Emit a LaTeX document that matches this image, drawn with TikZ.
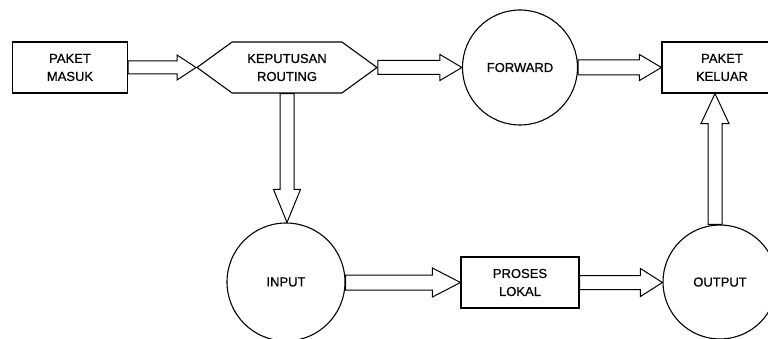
\documentclass[tikz,border=0pt]{standalone}
\usepackage{fontspec}
\setmainfont[FakeBold=0.6]{Liberation Sans}
\usetikzlibrary{calc,shapes.symbols}

\tikzset{
    kepala/.store in=\kepala, kepala=22pt,
    batang/.store in=\batang, batang=7pt,
    sayap/.store in=\sayap, sayap=13pt,
    kotak/.style={draw, line width=1.1pt, align=center, inner sep=0pt},
    bulat/.style={draw, circle, line width=1.1pt, minimum size=116pt, inner sep=0pt},
    blok/.style={draw, line width=1pt, fill=white,
        to path={let \p1=($(\tikztotarget)!\kepala!(\tikztostart)$) in
            ($(\tikztostart)!\batang!90:(\tikztotarget)$)
            -- ($(\p1)!\batang!90:(\tikztotarget)$)
            -- ($(\p1)!\sayap!90:(\tikztotarget)$)
            -- (\tikztotarget)
            -- ($(\p1)!\sayap!-90:(\tikztotarget)$)
            -- ($(\p1)!\batang!-90:(\tikztotarget)$)
            -- ($(\tikztostart)!\batang!-90:(\tikztotarget)$)
            -- cycle}}
}

\begin{document}
\begin{tikzpicture}[x=1pt, y=1pt, font=\fontsize{13}{18}\selectfont]
    \useasboundingbox (0,0) rectangle (768,338);
    \begin{scope} % Baris atas
        \node[kotak, minimum width=115pt, minimum height=51pt] (masuk)
            at (70,270.5) {PAKET\\MASUK};
        \node[kotak, signal, signal to=east and west, signal pointer angle=72,
            minimum width=180pt, minimum height=51pt] (rute)
            at (287,270.5) {KEPUTUSAN\\ROUTING};
        \node[bulat, minimum size=115pt] (fwd) at (520,270.5) {FORWARD};
        \node[kotak, minimum width=120pt, minimum height=51pt] (keluar)
            at (722,270.5) {PAKET\\KELUAR};
    \end{scope}
    \begin{scope} % Baris bawah
        \node[bulat, minimum size=118pt] (input) at (286,56) {INPUT};
        \node[kotak, minimum width=118pt, minimum height=51pt] (proses)
            at (520,55.5) {PROSES\\LOKAL};
        \node[bulat, minimum size=114pt] (output) at (720,56) {OUTPUT};
    \end{scope}
    \begin{scope} % Panah blok
        \path[blok, kepala=19pt, batang=6.5pt, sayap=12.5pt] (masuk.east) to (rute.west);
        \path[blok] (rute.east) to (fwd.west);
        \path[blok, batang=7.5pt] (fwd.east) to (keluar.west);
        \path[blok, kepala=33pt, batang=7pt, sayap=13.5pt]
            (rute.south) to (rute.south |- input.north);
        \path[blok, kepala=28pt, batang=7.5pt, sayap=14.5pt]
            (input.east |- proses.west) to (proses.west);
        \path[blok, batang=7pt, sayap=14pt]
            (proses.east) to (proses.east -| output.west);
        \path[blok, kepala=30pt, batang=7pt, sayap=14pt]
            ([xshift=-5pt]output.north) to ([xshift=-5pt]output.north |- keluar.south);
    \end{scope}
\end{tikzpicture}
\end{document}
